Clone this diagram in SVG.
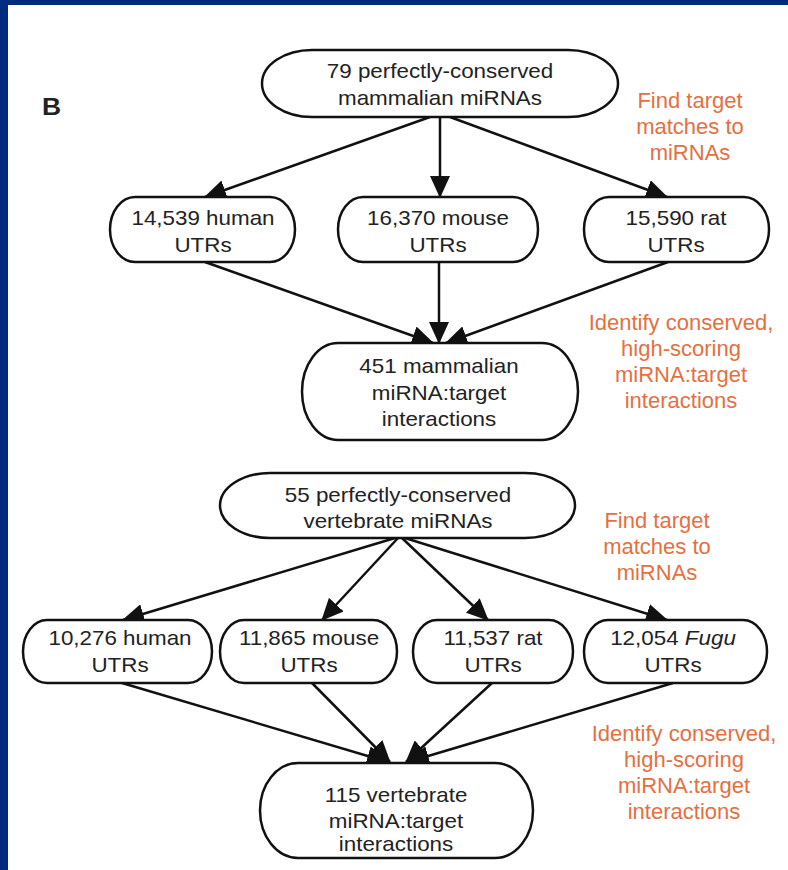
<svg xmlns="http://www.w3.org/2000/svg" width="788" height="870" viewBox="0 0 788 870">
<defs>
<style>
.node{fill:#fff;stroke:#111;stroke-width:2.5}
.t{font-family:"Liberation Sans",Arial,sans-serif;font-size:20px;fill:#222;text-anchor:middle}
.o{font-family:"Liberation Sans",Arial,sans-serif;font-size:22px;fill:#E4703F;text-anchor:middle}
.c{fill:none;stroke:#111;stroke-width:2.5}
</style>
<marker id="ah" markerUnits="userSpaceOnUse" markerWidth="22" markerHeight="20" refX="21" refY="10" orient="auto">
<path d="M0,0 L22,10 L0,20 z" fill="#111"/>
</marker>
</defs>
<rect x="0" y="0" width="788" height="870" fill="#fff"/>
<rect x="0" y="0" width="788" height="5" fill="#002A7E"/>
<rect x="0" y="0" width="8" height="870" fill="#002A7E"/>
<text x="0" y="115" transform="matrix(1.1 0 0 1 42 0)" style="font-family:'Liberation Sans',Arial,sans-serif;font-size:24px;font-weight:bold;fill:#222">B</text>

<g id="connectors">
<line class="c" x1="430" y1="117" x2="205" y2="197" marker-end="url(#ah)"/>
<line class="c" x1="440" y1="117" x2="440" y2="197" marker-end="url(#ah)"/>
<line class="c" x1="450" y1="117" x2="667" y2="197" marker-end="url(#ah)"/>
<line class="c" x1="205" y1="262" x2="433" y2="343" marker-end="url(#ah)"/>
<line class="c" x1="439" y1="262" x2="439" y2="343" marker-end="url(#ah)"/>
<line class="c" x1="668" y1="262" x2="446" y2="343" marker-end="url(#ah)"/>
<line class="c" x1="395" y1="538" x2="123" y2="620" marker-end="url(#ah)"/>
<line class="c" x1="398" y1="538" x2="322" y2="620" marker-end="url(#ah)"/>
<line class="c" x1="402" y1="538" x2="488" y2="620" marker-end="url(#ah)"/>
<line class="c" x1="405" y1="538" x2="667" y2="620" marker-end="url(#ah)"/>
<line class="c" x1="122" y1="683" x2="388" y2="762" marker-end="url(#ah)"/>
<line class="c" x1="312" y1="683" x2="390" y2="762" marker-end="url(#ah)"/>
<line class="c" x1="492" y1="683" x2="406" y2="762" marker-end="url(#ah)"/>
<line class="c" x1="673" y1="683" x2="408" y2="762" marker-end="url(#ah)"/>
</g>

<g id="n79">
<rect class="node" x="262" y="50" width="356" height="67" rx="50" ry="33.5"/>
<text class="t" transform="matrix(1.12 0 0 1 440 0)"><tspan x="0" y="78">79 perfectly-conserved</tspan><tspan x="0" y="105">mammalian miRNAs</tspan></text>
</g>
<g id="mhuman">
<rect class="node" x="110" y="197" width="185" height="65" rx="25" ry="32.5"/>
<text class="t" transform="matrix(1.12 0 0 1 203 0)"><tspan x="0" y="225">14,539 human</tspan><tspan x="0" y="252">UTRs</tspan></text>
</g>
<g id="mmouse">
<rect class="node" x="338" y="197" width="200" height="65" rx="25" ry="32.5"/>
<text class="t" transform="matrix(1.12 0 0 1 438 0)"><tspan x="0" y="225">16,370 mouse</tspan><tspan x="0" y="252">UTRs</tspan></text>
</g>
<g id="mrat">
<rect class="node" x="584" y="197" width="185" height="65" rx="25" ry="32.5"/>
<text class="t" transform="matrix(1.12 0 0 1 676 0)"><tspan x="0" y="225">15,590 rat</tspan><tspan x="0" y="252">UTRs</tspan></text>
</g>
<g id="n451">
<rect class="node" x="302" y="343" width="276" height="97" rx="36" ry="48.5"/>
<text class="t" transform="matrix(1.12 0 0 1 439 0)"><tspan x="0" y="373">451 mammalian</tspan><tspan x="0" y="400">miRNA:target</tspan><tspan x="0" y="426">interactions</tspan></text>
</g>
<g id="label1">
<text class="o"><tspan x="690" y="108">Find target</tspan><tspan x="690" y="134">matches to</tspan><tspan x="690" y="160">miRNAs</tspan></text>
</g>
<g id="label2">
<text class="o"><tspan x="681" y="330">Identify conserved,</tspan><tspan x="681" y="356">high-scoring</tspan><tspan x="681" y="382">miRNA:target</tspan><tspan x="681" y="408">interactions</tspan></text>
</g>

<g id="n55">
<rect class="node" x="220" y="473" width="355" height="65" rx="50" ry="32.5"/>
<text class="t" transform="matrix(1.12 0 0 1 398 0)"><tspan x="0" y="502">55 perfectly-conserved</tspan><tspan x="0" y="528">vertebrate miRNAs</tspan></text>
</g>
<g id="vhuman">
<rect class="node" x="23" y="620" width="189" height="63" rx="24" ry="31.5"/>
<text class="t" transform="matrix(1.12 0 0 1 120 0)"><tspan x="0" y="645">10,276 human</tspan><tspan x="0" y="672">UTRs</tspan></text>
</g>
<g id="vmouse">
<rect class="node" x="220" y="620" width="177" height="63" rx="24" ry="31.5"/>
<text class="t" transform="matrix(1.12 0 0 1 309 0)"><tspan x="0" y="645">11,865 mouse</tspan><tspan x="0" y="672">UTRs</tspan></text>
</g>
<g id="vrat">
<rect class="node" x="413" y="620" width="160" height="63" rx="24" ry="31.5"/>
<text class="t" transform="matrix(1.12 0 0 1 493 0)"><tspan x="0" y="645">11,537 rat</tspan><tspan x="0" y="672">UTRs</tspan></text>
</g>
<g id="vfugu">
<rect class="node" x="584" y="620" width="183" height="63" rx="24" ry="31.5"/>
<text class="t" transform="matrix(1.12 0 0 1 673 0)"><tspan x="0" y="645">12,054 <tspan font-style="italic">Fugu</tspan></tspan><tspan x="0" y="672">UTRs</tspan></text>
</g>
<g id="n115">
<rect class="node" x="260" y="763" width="273" height="95" rx="38" ry="47.5"/>
<text class="t" transform="matrix(1.12 0 0 1 396 0)"><tspan x="0" y="802">115 vertebrate</tspan><tspan x="0" y="828">miRNA:target</tspan><tspan x="0" y="851">interactions</tspan></text>
</g>
<g id="label3">
<text class="o"><tspan x="657" y="528">Find target</tspan><tspan x="657" y="554">matches to</tspan><tspan x="657" y="580">miRNAs</tspan></text>
</g>
<g id="label4">
<text class="o"><tspan x="684" y="741">Identify conserved,</tspan><tspan x="684" y="767">high-scoring</tspan><tspan x="684" y="793">miRNA:target</tspan><tspan x="684" y="819">interactions</tspan></text>
</g>
</svg>
